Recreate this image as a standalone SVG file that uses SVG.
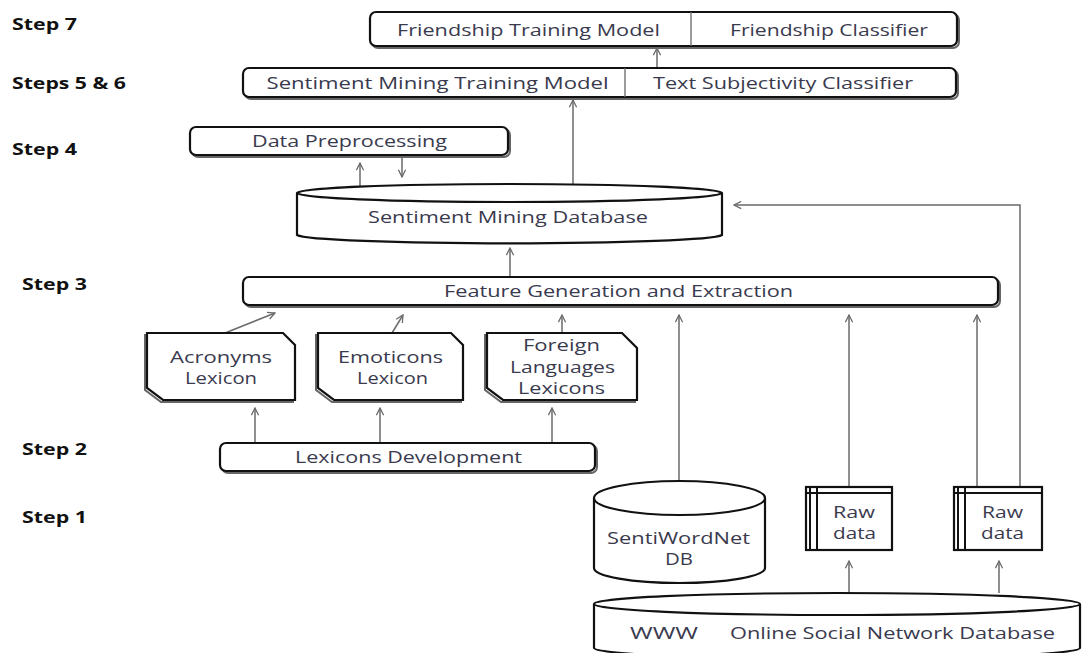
<svg xmlns="http://www.w3.org/2000/svg" width="1083" height="653" viewBox="0 0 1083 653">
<defs>
<marker id="arr" viewBox="0 0 10 10" refX="9" refY="5" markerWidth="9" markerHeight="9" markerUnits="userSpaceOnUse" orient="auto">
<path d="M1,1 L9,5 L1,9" fill="none" stroke="#6a6a6a" stroke-width="1.4"/>
</marker>
</defs>
<style>
.box{fill:#fff;stroke:#111;stroke-width:2.2}
.sh{fill:none;stroke:#666;stroke-width:2}
.div{stroke:#666;stroke-width:1.3}
.t{font-family:"Open Sans","Liberation Sans",sans-serif;font-size:17px;fill:#3a3a4e;text-anchor:middle}
.s{font-family:"Open Sans","Liberation Sans",sans-serif;font-size:16px;font-weight:bold;fill:#111}
.c{fill:none;stroke:#6a6a6a;stroke-width:1.5;marker-end:url(#arr)}
</style>
<rect width="1083" height="653" fill="#fff"/>

<g id="steps">
<text class="s" x="12" y="30" textLength="65" lengthAdjust="spacingAndGlyphs">Step 7</text>
<text class="s" x="12" y="89" textLength="114" lengthAdjust="spacingAndGlyphs">Steps 5 &amp; 6</text>
<text class="s" x="12" y="155" textLength="65" lengthAdjust="spacingAndGlyphs">Step 4</text>
<text class="s" x="22" y="290" textLength="65" lengthAdjust="spacingAndGlyphs">Step 3</text>
<text class="s" x="22" y="455" textLength="65" lengthAdjust="spacingAndGlyphs">Step 2</text>
<text class="s" x="22" y="523" textLength="65" lengthAdjust="spacingAndGlyphs">Step 1</text>
</g>

<g id="connectors">
<line class="c" x1="657" y1="68" x2="657" y2="48"/>
<line class="c" x1="573" y1="185" x2="573" y2="100"/>
<line class="c" x1="360" y1="186" x2="360" y2="163"/>
<line class="c" x1="402" y1="157" x2="402" y2="177"/>
<line class="c" x1="510" y1="277" x2="510" y2="248"/>
<line class="c" x1="225" y1="333" x2="275" y2="313"/>
<line class="c" x1="392" y1="333" x2="403" y2="315"/>
<line class="c" x1="562" y1="333" x2="562" y2="315"/>
<line class="c" x1="255" y1="443" x2="255" y2="408"/>
<line class="c" x1="380" y1="443" x2="380" y2="408"/>
<line class="c" x1="552" y1="443" x2="552" y2="408"/>
<line class="c" x1="679" y1="480" x2="679" y2="315"/>
<line class="c" x1="849" y1="487" x2="849" y2="315"/>
<line class="c" x1="977" y1="487" x2="977" y2="315"/>
<path class="c" d="M1020,487 V205 H734"/>
<line class="c" x1="849" y1="593" x2="849" y2="561"/>
<line class="c" x1="999" y1="593" x2="999" y2="561"/>
</g>

<g id="friendship">
<rect class="sh" x="372" y="14" width="587" height="34" rx="6"/>
<rect class="box" x="370" y="12" width="587" height="34" rx="6"/>
<line class="div" x1="691" y1="12" x2="691" y2="46"/>
<text class="t" x="528.5" y="36" textLength="263" lengthAdjust="spacingAndGlyphs">Friendship Training Model</text>
<text class="t" x="829" y="36" textLength="198" lengthAdjust="spacingAndGlyphs">Friendship Classifier</text>
</g>

<g id="sentiment-training">
<rect class="sh" x="245" y="70" width="713" height="29" rx="6"/>
<rect class="box" x="243" y="68" width="713" height="29" rx="6"/>
<line class="div" x1="625" y1="68" x2="625" y2="97"/>
<text class="t" x="437.5" y="89" textLength="342" lengthAdjust="spacingAndGlyphs">Sentiment Mining Training Model</text>
<text class="t" x="783" y="89" textLength="260" lengthAdjust="spacingAndGlyphs">Text Subjectivity Classifier</text>
</g>

<g id="data-preprocessing">
<rect class="sh" x="192" y="129" width="318" height="28" rx="6"/>
<rect class="box" x="190" y="127" width="318" height="28" rx="6"/>
<text class="t" x="349.5" y="147" textLength="195" lengthAdjust="spacingAndGlyphs">Data Preprocessing</text>
</g>

<g id="sentiment-db">
<path class="box" d="M297,193 V235 A213,9 0 0 0 722,235 V193"/>
<ellipse class="box" cx="509.5" cy="193" rx="212.5" ry="9"/>
<text class="t" x="508" y="223" textLength="280" lengthAdjust="spacingAndGlyphs">Sentiment Mining Database</text>
</g>

<g id="feature">
<rect class="sh" x="245" y="279" width="755" height="28" rx="6"/>
<rect class="box" x="243" y="277" width="755" height="28" rx="6"/>
<text class="t" x="618.5" y="297" textLength="349" lengthAdjust="spacingAndGlyphs">Feature Generation and Extraction</text>
</g>

<g id="acronyms">
<path class="sh" d="M145,335 L281,335 L293,347 L293,402 L161,402 L145,390 Z"/>
<path class="box" d="M147,333 L283,333 L295,345 L295,400 L163,400 L147,388 Z"/>
<text class="t" x="221" y="363" textLength="102" lengthAdjust="spacingAndGlyphs">Acronyms</text>
<text class="t" x="221" y="384" textLength="72" lengthAdjust="spacingAndGlyphs">Lexicon</text>
</g>

<g id="emoticons">
<path class="sh" d="M316,335 L449,335 L461,347 L461,402 L332,402 L316,390 Z"/>
<path class="box" d="M318,333 L451,333 L463,345 L463,400 L334,400 L318,388 Z"/>
<text class="t" x="390.5" y="363" textLength="105" lengthAdjust="spacingAndGlyphs">Emoticons</text>
<text class="t" x="392.5" y="384" textLength="71" lengthAdjust="spacingAndGlyphs">Lexicon</text>
</g>

<g id="foreign">
<path class="sh" d="M485,335 L620,335 L635,350 L635,402 L501,402 L485,390 Z"/>
<path class="box" d="M487,333 L622,333 L637,348 L637,400 L503,400 L487,388 Z"/>
<text class="t" x="561.5" y="351" textLength="77" lengthAdjust="spacingAndGlyphs">Foreign</text>
<text class="t" x="562.5" y="373" textLength="105" lengthAdjust="spacingAndGlyphs">Languages</text>
<text class="t" x="561.5" y="394" textLength="87" lengthAdjust="spacingAndGlyphs">Lexicons</text>
</g>

<g id="lexicons-dev">
<rect class="sh" x="222" y="445" width="375" height="28" rx="6"/>
<rect class="box" x="220" y="443" width="375" height="28" rx="6"/>
<text class="t" x="408.5" y="463" textLength="227" lengthAdjust="spacingAndGlyphs">Lexicons Development</text>
</g>

<g id="sentiwordnet">
<path class="box" d="M594,498 V568 A85.5,15 0 0 0 765,568 V498"/>
<ellipse class="box" cx="679.5" cy="498" rx="85.5" ry="17"/>
<text class="t" x="678.5" y="544" textLength="143" lengthAdjust="spacingAndGlyphs">SentiWordNet</text>
<text class="t" x="679" y="565" textLength="28" lengthAdjust="spacingAndGlyphs">DB</text>
</g>

<g id="raw1">
<rect class="box" x="806" y="487" width="86" height="63" stroke-width="3"/>
<line x1="806" y1="493" x2="892" y2="493" stroke="#111" stroke-width="2"/>
<line x1="810" y1="487" x2="810" y2="550" stroke="#111" stroke-width="2"/>
<line x1="817" y1="487" x2="817" y2="550" stroke="#111" stroke-width="2"/>
<text class="t" x="854" y="518" textLength="42" lengthAdjust="spacingAndGlyphs">Raw</text>
<text class="t" x="854.5" y="539" textLength="43" lengthAdjust="spacingAndGlyphs">data</text>
</g>

<g id="raw2">
<rect class="box" x="954" y="487" width="88" height="63" stroke-width="3"/>
<line x1="954" y1="493" x2="1042" y2="493" stroke="#111" stroke-width="2"/>
<line x1="958" y1="487" x2="958" y2="550" stroke="#111" stroke-width="2"/>
<line x1="965" y1="487" x2="965" y2="550" stroke="#111" stroke-width="2"/>
<text class="t" x="1002.5" y="518" textLength="41" lengthAdjust="spacingAndGlyphs">Raw</text>
<text class="t" x="1002.5" y="539" textLength="43" lengthAdjust="spacingAndGlyphs">data</text>
</g>

<g id="www-db">
<path class="box" d="M594,604 V648 A243,11 0 0 0 1080,648 V604"/>
<ellipse class="box" cx="837" cy="604" rx="243" ry="11"/>
<text class="t" x="664" y="639" textLength="68" lengthAdjust="spacingAndGlyphs">WWW</text>
<text class="t" x="892.5" y="639" textLength="325" lengthAdjust="spacingAndGlyphs">Online Social Network Database</text>
</g>
</svg>
